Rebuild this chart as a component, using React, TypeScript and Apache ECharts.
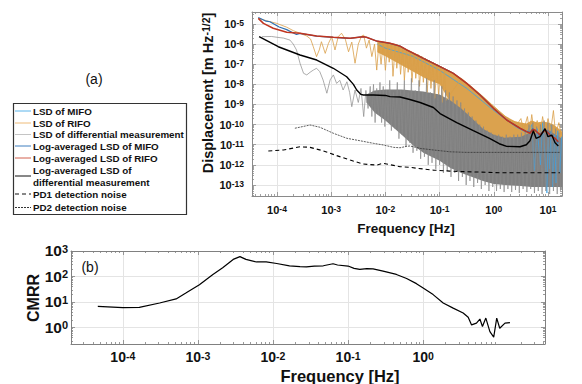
import React, { useEffect, useRef } from 'react';
import * as echarts from 'echarts';

type P = [number, number];

// ---------- Panel (a) data: [log10(frequency / Hz), log10(LSD / m Hz^-1/2)] ----------
const mifoRaw: P[] = [
  [-2.15, -6.0], [-2.0, -6.2], [-1.5, -6.6], [-1.0, -7.3], [-0.5, -8.2], [0.0, -9.3], [0.4, -10.1], [0.6, -10.4],
  [0.7, -10.0], [0.75, -12.3], [0.8, -10.2], [0.86, -12.0], [0.9, -9.9], [0.93, -10.8], [0.96, -12.6], [0.98, -13.4],
  [1.0, -10.4], [1.03, -12.2], [1.06, -10.0], [1.09, -13.1], [1.12, -10.5], [1.15, -12.9], [1.18, -10.3], [1.22, -12.4], [1.25, -10.6],
];

const rifoRaw: P[] = [
  [-4.345, -4.72], [-4.19, -4.84], [-4.005, -4.97], [-3.82, -5.16], [-3.7, -5.33], [-3.575, -5.46], [-3.45, -5.6], [-3.38, -5.75],
  [-3.33, -6.13], [-3.27, -6.62], [-3.22, -6.29], [-3.18, -5.88], [-3.11, -6.46], [-3.05, -5.96], [-2.99, -5.63], [-2.93, -6.29],
  [-2.87, -5.63], [-2.81, -5.46], [-2.74, -5.75], [-2.68, -6.38], [-2.62, -5.9], [-2.56, -6.95], [-2.5, -6.0], [-2.44, -5.6],
  [-2.4, -5.55], [-2.35, -6.2], [-2.3, -5.8], [-2.25, -6.62], [-2.2, -6.0], [-2.16, -7.29], [-2.12, -5.95],
  [-2.08, -7.0], [-2.04, -5.95], [-2.0, -7.3], [-1.96, -6.0], [-1.93, -6.9], [-1.89, -6.0], [-1.86, -7.6], [-1.82, -6.1],
  [-1.79, -7.2], [-1.75, -6.1], [-1.72, -7.5], [-1.68, -6.2], [-1.65, -7.8], [-1.61, -6.3], [-1.58, -7.4], [-1.54, -6.35],
  [-1.51, -7.9], [-1.47, -6.45], [-1.44, -7.7], [-1.4, -6.5], [-1.37, -8.1], [-1.33, -6.6], [-1.3, -7.9], [-1.26, -6.7],
  [-1.23, -8.4], [-1.19, -6.8], [-1.16, -8.2], [-1.12, -6.9], [-1.09, -8.7], [-1.05, -7.0], [-1.02, -8.5], [-0.98, -7.1],
  [-0.95, -8.9], [-0.91, -7.2], [-0.88, -8.8], [-0.6, -7.7], [-0.3, -8.4], [0.0, -9.1], [0.3, -9.8], [0.45, -9.9],
  [0.5, -9.7], [0.55, -10.3], [0.62, -9.6], [0.66, -10.4], [0.7, -9.5], [0.74, -10.3], [0.8, -9.8], [0.86, -10.4],
  [0.9, -9.6], [0.95, -10.4], [1.0, -9.7], [1.05, -10.3], [1.1, -9.3], [1.14, -10.5], [1.2, -9.9], [1.24, -10.5],
];

const diffRaw: P[] = [
  [-4.28, -5.63], [-4.1, -5.62], [-4.0, -5.66], [-3.88, -5.7], [-3.76, -5.8], [-3.7, -6.0], [-3.64, -6.29], [-3.575, -6.95],
  [-3.51, -7.45], [-3.45, -7.53], [-3.39, -7.4], [-3.33, -7.29], [-3.27, -7.2], [-3.21, -7.37], [-3.15, -7.78], [-3.08, -8.44],
  [-3.02, -7.78], [-2.96, -7.53], [-2.9, -7.95], [-2.84, -7.8], [-2.78, -8.28], [-2.71, -7.87], [-2.66, -8.4], [-2.62, -9.11],
  [-2.56, -8.28], [-2.5, -8.9], [-2.45, -8.2], [-2.4, -9.6], [-2.36, -8.3], [-2.32, -9.2],
  [-2.28, -8.1], [-2.25, -9.6], [-2.22, -8.0], [-2.19, -9.9], [-2.16, -8.2], [-2.13, -9.5], [-2.1, -7.9], [-2.07, -9.9],
  [-2.04, -8.1], [-2.01, -10.1], [-1.98, -8.3], [-1.95, -9.8], [-1.92, -7.8], [-1.89, -10.3], [-1.85, -8.4], [-1.82, -10.2],
  [-1.78, -7.9], [-1.75, -10.7], [-1.72, -8.3], [-1.69, -10.5], [-1.65, -7.8], [-1.62, -11.1], [-1.58, -8.4], [-1.55, -10.9],
  [-1.52, -7.7], [-1.49, -11.4], [-1.45, -8.3], [-1.42, -11.3], [-1.38, -7.8], [-1.35, -11.7], [-1.31, -8.4], [-1.28, -11.6],
  [-1.24, -7.7], [-1.21, -12.0], [-1.17, -8.4], [-1.14, -11.9], [-1.1, -7.8], [-1.07, -12.2], [-1.03, -8.5], [-1.0, -12.0],
  [-0.96, -8.1], [-0.93, -12.4], [-0.89, -8.3], [-0.86, -12.3], [-0.82, -8.4], [-0.79, -12.6], [-0.75, -8.6], [-0.72, -12.4],
  [-0.68, -8.8], [-0.65, -12.8], [-0.61, -8.9], [-0.58, -12.6], [-0.54, -9.2], [-0.51, -13.0], [-0.47, -9.4], [-0.44, -12.8],
  [-0.4, -9.6], [-0.37, -13.1], [-0.33, -9.8], [-0.3, -12.9], [-0.26, -10.0], [-0.23, -13.2], [-0.19, -10.1], [-0.16, -13.0],
  [-0.12, -10.3], [-0.09, -13.3], [-0.05, -10.4], [-0.02, -13.1], [0.02, -10.5], [0.05, -13.3], [0.09, -10.5], [0.12, -13.2],
  [0.16, -10.6], [0.19, -13.35], [0.23, -10.5], [0.26, -13.2], [0.3, -10.6], [0.33, -13.35], [0.37, -10.5], [0.4, -13.25],
  [0.44, -10.5], [0.47, -13.4], [0.51, -10.4], [0.54, -13.2], [0.58, -10.3], [0.61, -13.35], [0.65, -10.0], [0.68, -13.2],
  [0.72, -9.9], [0.75, -13.4], [0.79, -10.1], [0.82, -13.3], [0.86, -10.0], [0.89, -13.45], [0.93, -9.8], [0.96, -13.3],
  [1.0, -9.9], [1.03, -13.45], [1.07, -10.0], [1.1, -13.3], [1.14, -10.2], [1.17, -13.45], [1.2, -10.4], [1.23, -13.3],
];

// dense parts of the raw spectra (envelopes)
const rifoBandFreq = [-2.15, -2.0, -1.8, -1.6, -1.4, -1.2, -1.0, -0.8, -0.6, -0.4, -0.2, 0.0, 0.2, 0.4, 0.6, 0.7, 0.8, 0.9, 1.0, 1.1, 1.2, 1.26];
const rifoBandTop = [-5.85, -5.9, -6.0, -6.25, -6.52, -6.8, -7.07, -7.33, -7.68, -8.12, -8.58, -9.08, -9.55, -9.85, -9.95, -9.8, -9.9, -9.85, -9.9, -10.0, -10.2, -10.35];
const rifoBandBottom = [-6.4, -6.6, -6.9, -7.2, -7.5, -7.8, -8.0, -8.9, -9.3, -9.9, -10.4, -10.6, -10.8, -10.8, -10.7, -10.5, -10.6, -10.4, -10.6, -10.7, -10.8, -10.8];

const diffBandFreq = [-2.35, -2.2, -2.0, -1.7, -1.5, -1.3, -1.0, -0.8, -0.6, -0.4, -0.2, 0.0, 0.2, 0.5, 0.7, 0.8, 1.0, 1.2, 1.26];
const diffBandTop = [-8.5, -8.3, -8.25, -8.25, -8.3, -8.35, -8.5, -8.8, -9.2, -9.7, -10.2, -10.5, -10.65, -10.6, -10.35, -10.45, -10.25, -10.6, -10.7];
const diffBandBottom = [-8.9, -9.4, -9.8, -10.5, -11.0, -11.4, -11.8, -12.15, -12.4, -12.6, -12.8, -12.95, -13.0, -13.05, -13.1, -13.1, -13.1, -13.1, -13.1];

const mifoAvg: P[] = [
  [-4.345, -4.68], [-4.2, -4.86], [-4.13, -4.89], [-3.96, -5.15], [-3.82, -5.28], [-3.7, -5.45], [-3.64, -5.52], [-3.575, -5.47],
  [-3.27, -5.6], [-2.96, -5.66], [-2.65, -5.71], [-2.41, -5.63], [-2.35, -5.66], [-2.16, -5.85], [-1.915, -5.96], [-1.73, -6.1],
  [-1.607, -6.29], [-1.3, -6.71], [-0.992, -7.12], [-0.747, -7.45], [-0.5, -7.95], [-0.254, -8.53], [-0.007, -9.19], [0.238, -9.77],
  [0.484, -10.18], [0.6, -10.33], [0.668, -10.38], [0.72, -10.2], [0.76, -10.3], [0.853, -10.5], [0.945, -10.22], [1.037, -10.5],
  [1.13, -10.7], [1.19, -10.9],
];
const rifoAvg: P[] = [
  [-4.345, -4.72], [-4.25, -4.97], [-4.07, -5.21], [-3.82, -5.41], [-3.575, -5.46], [-3.27, -5.6], [-2.96, -5.66], [-2.65, -5.71],
  [-2.41, -5.63], [-2.35, -5.66], [-2.16, -5.85], [-1.915, -5.96], [-1.73, -6.1], [-1.607, -6.29], [-1.3, -6.71], [-0.992, -7.12],
  [-0.747, -7.45], [-0.5, -7.95], [-0.254, -8.53], [-0.007, -9.19], [0.238, -9.77], [0.484, -10.18], [0.6, -10.35], [0.668, -10.43],
  [0.72, -10.25], [0.76, -10.27], [0.853, -10.52], [0.945, -10.27], [1.037, -10.52], [1.13, -10.68], [1.19, -10.85],
];
const diffAvg: P[] = [
  [-4.33, -5.63], [-3.976, -6.13], [-3.575, -6.54], [-3.267, -6.79], [-2.961, -7.2], [-2.714, -7.62], [-2.59, -8.0], [-2.529, -8.28],
  [-2.45, -8.5], [-2.407, -8.53], [-2.22, -8.53], [-2.0, -8.55], [-1.915, -8.61], [-1.73, -8.63], [-1.55, -8.75], [-1.36, -8.9],
  [-1.115, -9.15], [-0.992, -9.45], [-0.684, -9.9], [-0.378, -10.3], [-0.07, -10.7], [0.1, -10.95], [0.238, -11.08], [0.484, -11.1],
  [0.6, -11.0], [0.668, -10.8], [0.73, -10.3], [0.78, -10.68], [0.853, -10.6], [0.945, -10.2], [1.0, -10.6], [1.07, -10.52],
  [1.13, -10.9], [1.19, -11.06],
];
const pd1Noise: P[] = [
  [-4.16, -11.31], [-3.88, -11.26], [-3.575, -11.1], [-3.39, -11.13], [-3.15, -11.3], [-2.9, -11.54], [-2.65, -11.76], [-2.41, -11.96],
  [-2.16, -12.01], [-2.04, -11.92], [-1.9, -12.0], [-1.73, -12.09], [-1.55, -12.12], [-1.42, -12.17], [-1.115, -12.26], [-0.81, -12.31],
  [-0.5, -12.34], [0.115, -12.39], [0.97, -12.39], [1.22, -12.39],
];
const pd2Noise: P[] = [
  [-3.67, -10.18], [-3.39, -10.02], [-3.21, -10.13], [-2.96, -10.43], [-2.71, -10.68], [-2.47, -10.8], [-2.22, -10.93], [-2.04, -11.01],
  [-1.85, -11.13], [-1.73, -11.15], [-1.61, -11.08], [-1.546, -11.06], [-1.36, -11.18], [-1.115, -11.26], [-0.81, -11.35], [-0.5, -11.38],
  [0.5, -11.38], [1.22, -11.38],
];

// ---------- Panel (b) data: [log10(frequency / Hz), log10(CMRR)] ----------
const cmrr: P[] = [
  [-4.333, 0.826], [-4.0, 0.78], [-3.78, 0.79], [-3.51, 0.96], [-3.29, 1.12], [-3.155, 1.36], [-2.98, 1.68], [-2.8, 2.08],
  [-2.67, 2.34], [-2.53, 2.67], [-2.44, 2.78], [-2.36, 2.67], [-2.22, 2.57], [-2.09, 2.57], [-1.95, 2.51], [-1.78, 2.42],
  [-1.64, 2.39], [-1.555, 2.38], [-1.45, 2.41], [-1.33, 2.42], [-1.2, 2.5], [-1.14, 2.45], [-1.0, 2.41], [-0.92, 2.32],
  [-0.844, 2.28], [-0.75, 2.31], [-0.667, 2.3], [-0.533, 2.21], [-0.356, 2.08], [-0.22, 1.92], [-0.089, 1.72], [0.0, 1.55],
  [0.133, 1.29], [0.267, 0.96], [0.4, 0.76], [0.533, 0.57], [0.6, 0.4], [0.645, 0.1], [0.71, 0.17], [0.756, 0.33],
  [0.79, 0.04], [0.835, 0.37], [0.889, -0.16], [0.94, -0.38], [0.98, 0.37], [1.02, -0.03], [1.09, 0.17], [1.156, 0.19],
];

// ---------- ticks (decade exponents) ----------
const topXTicks = [-4, -3, -2, -1, 0, 1];
const topYTicks = [-13, -12, -11, -10, -9, -8, -7, -6, -5];
const botXTicks = [-4, -3, -2, -1, 0];
const botYTicks = [0, 1, 2, 3];

const legendLabels = [
  'LSD of MIFO',
  'LSD of RIFO',
  'LSD of differential measurement',
  'Log-averaged LSD of MIFO',
  'Log-averaged LSD of RIFO',
  'Log-averaged LSD of\ndifferential measurement',
  'PD1 detection noise',
  'PD2 detection noise',
];

// ---------- styling ----------
const FONT = '"Liberation Sans", Arial, Helvetica, sans-serif';
const seriesStyles: any[] = [
  { color: '#3aa3e8', width: 0.8, dash: 'solid' },
  { color: '#d99e48', width: 0.8, dash: 'solid' },
  { color: '#8a8a8a', width: 0.7, dash: 'solid' },
  { color: '#2f6fb0', width: 1.2, dash: 'solid' },
  { color: '#c0341f', width: 1.5, dash: 'solid' },
  { color: '#000000', width: 1.4, dash: 'solid' },
  { color: '#000000', width: 1.1, dash: [4, 3] },
  { color: '#333333', width: 0.8, dash: [2, 1] },
];
const legendLineColors = ['#5ab4ea', '#eebb78', '#c4c4c4', '#3f7fbf', '#d2604e', '#111111', '#111111', '#333333'];

function minorTicks(min: number, max: number) {
  const out: number[] = [];
  for (let n = Math.floor(min); n <= Math.ceil(max); n++) {
    for (let k = 2; k <= 9; k++) {
      const v = n + Math.log10(k);
      if (v > min && v < max) out.push(v);
    }
  }
  return out;
}

function axesFor(
  dim: 'x' | 'y', grid: number, min: number, max: number, majors: number[],
  lab: { size: number; sup: number; raise: number; margin: number }, lineColor: string,
) {
  const posA = dim === 'x' ? 'bottom' : 'left';
  const posB = dim === 'x' ? 'top' : 'right';
  const minors = minorTicks(min, max);
  const base = { type: 'value', gridIndex: grid, min, max };
  const line = { show: true, onZero: false, lineStyle: { color: lineColor, width: 1 } };
  const noLine = { show: false, onZero: false };
  const tickStyle = { color: lineColor, width: 0.8 };
  const main = {
    ...base, position: posA,
    axisLine: line,
    axisTick: { show: true, inside: true, length: 4, customValues: majors, lineStyle: tickStyle },
    axisLabel: {
      show: true, customValues: majors, margin: lab.margin,
      formatter: (v: number) => `{b|10}{s|${Math.round(v)}}`,
      rich: {
        b: { fontSize: lab.size, fontWeight: 'bold', fontFamily: FONT, color: '#111', verticalAlign: 'bottom', lineHeight: lab.size },
        s: { fontSize: lab.sup, fontWeight: 'bold', fontFamily: FONT, color: '#111', verticalAlign: 'top', lineHeight: lab.sup, padding: [0, 0, lab.raise, 0] },
      },
    },
    splitLine: { show: true, lineStyle: { color: '#e4e4e4', width: 1 } },
  };
  const opp = {
    ...base, position: posB, axisLine: line,
    axisTick: { show: true, inside: true, length: 4, customValues: majors, lineStyle: tickStyle },
    axisLabel: { show: false }, splitLine: { show: false },
  };
  const minA = {
    ...base, position: posA, axisLine: noLine,
    axisTick: { show: true, inside: true, length: 2, customValues: minors, lineStyle: tickStyle },
    axisLabel: { show: false }, splitLine: { show: false },
  };
  const minB = { ...minA, position: posB };
  return [main, opp, minA, minB];
}

function lineSeries(name: string, data: P[], st: any, xi: number, yi: number) {
  return {
    type: 'line', name, data, xAxisIndex: xi, yAxisIndex: yi, showSymbol: false, symbol: 'none', clip: true,
    silent: true, emphasis: { disabled: true },
    lineStyle: { color: st.color, width: st.width, type: st.dash },
    itemStyle: { color: st.color },
  };
}

function bandSeries(freq: number[], top: number[], bottom: number[], fill: string) {
  return {
    type: 'custom', xAxisIndex: 0, yAxisIndex: 0, silent: true, clip: true,
    data: [[freq[0], top[0]]],
    renderItem: (_p: any, api: any) => {
      const pts: number[][] = freq.map((f, i) => api.coord([f, top[i]]));
      for (let i = freq.length - 1; i >= 0; i--) pts.push(api.coord([freq[i], bottom[i]]));
      return { type: 'polygon', shape: { points: pts }, style: { fill, stroke: 'none' } };
    },
  };
}

function buildOption() {
  const topX = [-4.461, 1.258];
  const topY = [-13.547, -4.404];
  const botX = [-4.69, 1.623];
  const botY = [-0.648, 3];
  const topLab = { size: 11, sup: 8.5, raise: 6, margin: 8 };
  const botXLab = { size: 14, sup: 10.5, raise: 7, margin: 6 };
  const botYLab = { size: 15.5, sup: 11, raise: 8, margin: 3 };

  const xAxis = [
    ...axesFor('x', 0, topX[0], topX[1], topXTicks, topLab, '#8a8a8a'),
    ...axesFor('x', 1, botX[0], botX[1], botXTicks, botXLab, '#808080'),
  ];
  const yAxis = [
    ...axesFor('y', 0, topY[0], topY[1], topYTicks, topLab, '#8a8a8a'),
    ...axesFor('y', 1, botY[0], botY[1], botYTicks, botYLab, '#808080'),
  ];

  const series: any[] = [
    lineSeries(legendLabels[0], mifoRaw, seriesStyles[0], 0, 0),
    bandSeries(rifoBandFreq, rifoBandTop, rifoBandBottom, '#dba24e'),
    lineSeries(legendLabels[1], rifoRaw, seriesStyles[1], 0, 0),
    bandSeries(diffBandFreq, diffBandTop, diffBandBottom, '#808080'),
    lineSeries(legendLabels[2], diffRaw, seriesStyles[2], 0, 0),
    lineSeries(legendLabels[3], mifoAvg, seriesStyles[3], 0, 0),
    lineSeries(legendLabels[4], rifoAvg, seriesStyles[4], 0, 0),
    lineSeries('Log-averaged LSD of differential measurement', diffAvg, seriesStyles[5], 0, 0),
    lineSeries(legendLabels[6], pd1Noise, seriesStyles[6], 0, 0),
    lineSeries(legendLabels[7], pd2Noise, seriesStyles[7], 0, 0),
    lineSeries('CMRR', cmrr, { color: '#000', width: 1.2, dash: 'solid' }, 4, 4),
  ];

  // legend rows (boxed list, like the original)
  const legendRowY = [111, 123, 134.5, 146, 158, 176, 194, 207.5];
  const graphic: any[] = [
    {
      type: 'rect', id: 'legendFrame',
      shape: { x: 13.5, y: 103.5, width: 173, height: 111 },
      style: { fill: 'rgba(255,255,255,0)', stroke: '#333333', lineWidth: 1.2 },
    },
  ];
  legendLabels.forEach((label, i) => {
    const st = seriesStyles[i];
    graphic.push({
      type: 'line', shape: { x1: 15, y1: legendRowY[i], x2: 31, y2: legendRowY[i] },
      style: { stroke: legendLineColors[i], lineWidth: 1, lineDash: Array.isArray(st.dash) ? st.dash : null },
    });
    graphic.push({
      type: 'text', x: 33, y: legendRowY[i],
      style: { text: label, fontSize: 9.8, fontWeight: 'bold', fontFamily: FONT, fill: '#111', align: 'left', verticalAlign: 'middle', lineHeight: 12 },
    });
  });

  graphic.push(
    { type: 'text', x: 94, y: 79, style: { text: '(a)', fontSize: 14, fontFamily: FONT, fill: '#111', align: 'center', verticalAlign: 'middle' } },
    { type: 'text', x: 90, y: 267, style: { text: '(b)', fontSize: 14, fontFamily: FONT, fill: '#111', align: 'center', verticalAlign: 'middle' } },
    { type: 'text', x: 406, y: 228, style: { text: 'Frequency [Hz]', fontSize: 13.5, fontWeight: 'bold', fontFamily: FONT, fill: '#111', align: 'center', verticalAlign: 'middle' } },
    { type: 'text', x: 340, y: 376, style: { text: 'Frequency [Hz]', fontSize: 16.5, fontWeight: 'bold', fontFamily: FONT, fill: '#111', align: 'center', verticalAlign: 'middle' } },
    { type: 'text', x: 33, y: 298, rotation: Math.PI / 2, style: { text: 'CMRR', fontSize: 16, fontWeight: 'bold', fontFamily: FONT, fill: '#111', align: 'center', verticalAlign: 'middle' } },
    {
      type: 'text', x: 208, y: 93, rotation: Math.PI / 2,
      style: {
        text: '{a|Displacement [m Hz}{s|-1/2}{a|]}', align: 'center', verticalAlign: 'middle',
        rich: {
          a: { fontSize: 14.5, fontWeight: 'bold', fontFamily: FONT, fill: '#111', verticalAlign: 'bottom', lineHeight: 14.5 },
          s: { fontSize: 10.5, fontWeight: 'bold', fontFamily: FONT, fill: '#111', verticalAlign: 'top', lineHeight: 10.5, padding: [0, 0, 7, 0] },
        },
      },
    },
  );

  return {
    animation: false,
    backgroundColor: '#ffffff',
    grid: [
      { left: 252, top: 12, width: 310, height: 184, containLabel: false },
      { left: 71, top: 251, width: 474, height: 93, containLabel: false },
    ],
    xAxis, yAxis, series, graphic,
  };
}

export default function App() {
  const ref = useRef<HTMLDivElement>(null);
  useEffect(() => {
    if (!ref.current) return;
    const chart = echarts.init(ref.current, undefined, { renderer: 'svg' });
    chart.setOption(buildOption() as any);
    return () => chart.dispose();
  }, []);
  return (
    <div
      ref={ref}
      style={{ position: 'fixed', left: 0, top: 0, width: 582, height: 384, background: '#fff' }}
    />
  );
}
